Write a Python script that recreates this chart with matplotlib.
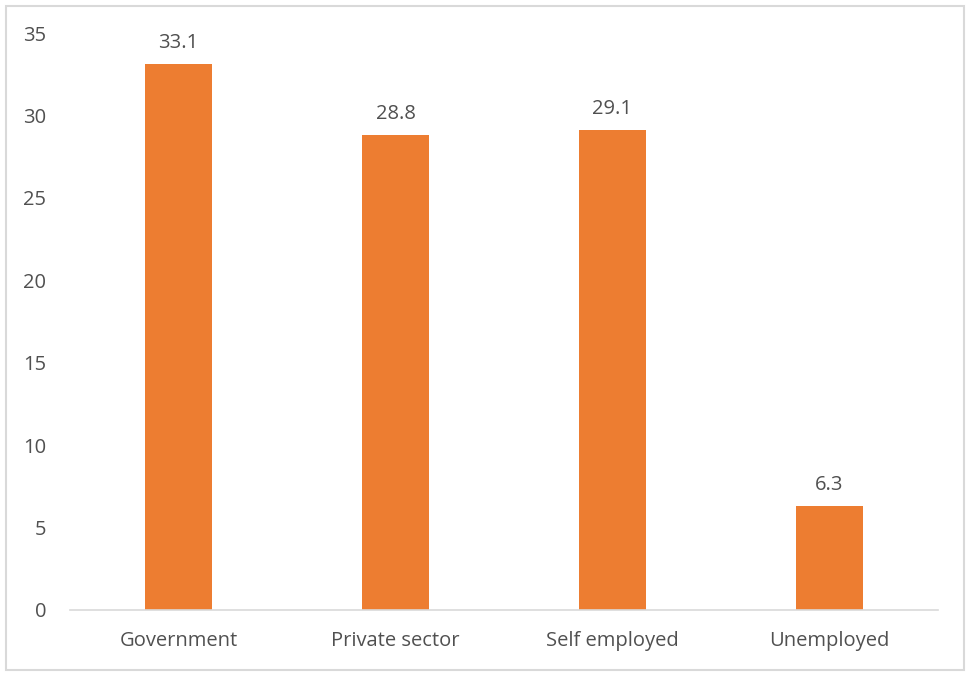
import matplotlib.pyplot as plt
from matplotlib.patches import Rectangle

categories = ['Government', 'Private sector', 'Self employed', 'Unemployed']
values = [33.1, 28.8, 29.1, 6.3]
yticks = [0, 5, 10, 15, 20, 25, 30, 35]

plt.rcParams['font.family'] = ['Open Sans', 'DejaVu Sans']
text_color = '#505050'

fig = plt.figure(figsize=(9.69, 6.75), dpi=100)
ax = fig.add_axes([0.0722, 0.0963, 0.8958, 0.8548])

x = range(len(categories))
bars = ax.bar(x, values, width=0.31, color='#ED7D31', zorder=2)
for b, v in zip(bars, values):
    ax.annotate(f'{v:.1f}', (b.get_x() + b.get_width() / 2, v),
                xytext=(0, 8), textcoords='offset points',
                ha='center', va='bottom', fontsize=14.5, color=text_color)

ax.set_xlim(-0.5, len(categories) - 0.5)
ax.set_ylim(0, 35)
ax.set_yticks(yticks)
ax.set_xticks(list(x))
ax.set_xticklabels(categories)
ax.tick_params(axis='both', length=0, labelsize=14.5, labelcolor=text_color)
ax.tick_params(axis='y', pad=17)
ax.tick_params(axis='x', pad=15)
for s in ['top', 'right', 'left']:
    ax.spines[s].set_visible(False)
ax.spines['bottom'].set_color('#D9D9D9')
ax.spines['bottom'].set_linewidth(1.2)

# chart border
fig.patches.append(Rectangle((6 / 969, 5 / 675), 958 / 969, 664 / 675,
                             transform=fig.transFigure, fill=False,
                             edgecolor='#D9D9D9', linewidth=1.5))

fig.savefig('out.png', dpi=100)
